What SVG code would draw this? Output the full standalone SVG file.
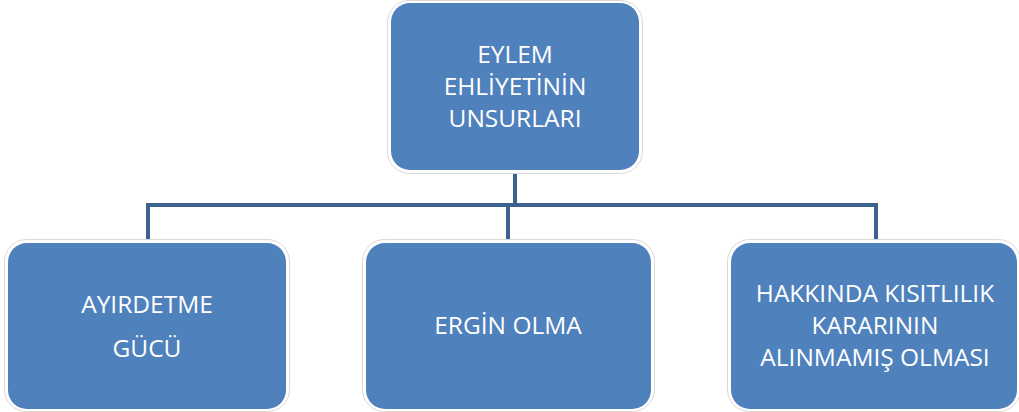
<svg xmlns="http://www.w3.org/2000/svg" width="1019" height="412" viewBox="0 0 1019 412">
<style>
.outer{fill:#ffffff;stroke:#d9d9d9;stroke-width:1}
.box{fill:#4f81bd}
.conn{fill:none;stroke:#3e6290;stroke-width:4}
.t{font-family:"Open Sans","Liberation Sans",sans-serif;font-size:24.5px;fill:#ffffff;text-anchor:middle}
</style>
<rect width="1019" height="412" fill="#ffffff"/>
<g id="connectors">
<path class="conn" d="M515 170 V205"/>
<path class="conn" d="M146 205 H878"/>
<path class="conn" d="M148 203 V242"/>
<path class="conn" d="M508 203 V242"/>
<path class="conn" d="M876 203 V242"/>
</g>
<g id="node-root">
<rect class="outer" x="387.500" y="0.500" width="255" height="173" rx="22"/>
<rect class="box" x="391" y="3" width="248" height="167" rx="19"/>
<text class="t" x="515" y="63">EYLEM</text>
<text class="t" x="515" y="95">EHLİYETİNİN</text>
<text class="t" x="515" y="127">UNSURLARI</text>
</g>
<g id="node-ayirdetme">
<rect class="outer" x="4.500" y="239.500" width="285" height="172" rx="22"/>
<rect class="box" x="8" y="243" width="278" height="166" rx="19"/>
<text class="t" x="147" y="313">AYIRDETME</text>
<text class="t" x="147" y="357">GÜCÜ</text>
</g>
<g id="node-ergin">
<rect class="outer" x="362.500" y="239.500" width="292" height="172" rx="22"/>
<rect class="box" x="366" y="243" width="285" height="166" rx="19"/>
<text class="t" x="508" y="334">ERGİN OLMA</text>
</g>
<g id="node-kisitlilik">
<rect class="outer" x="727.500" y="239.500" width="293" height="172" rx="22"/>
<rect class="box" x="731" y="243" width="286" height="166" rx="19"/>
<text class="t" x="875" y="302">HAKKINDA KISITLILIK</text>
<text class="t" x="875" y="334">KARARININ</text>
<text class="t" x="875" y="366">ALINMAMIŞ OLMASI</text>
</g>
</svg>
